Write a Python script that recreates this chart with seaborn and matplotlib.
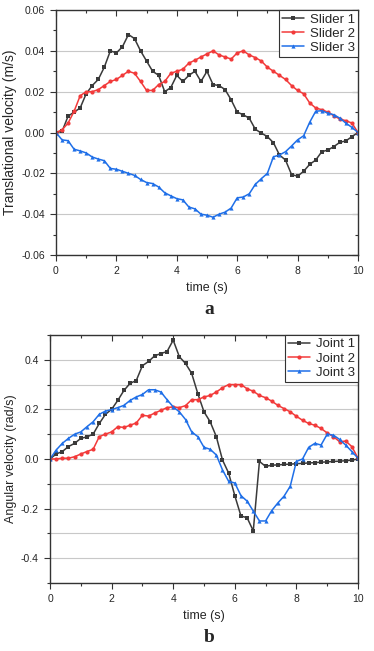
import numpy as np
import pandas as pd
import seaborn as sns
import matplotlib.pyplot as plt
from matplotlib.ticker import MultipleLocator, FixedLocator, FormatStrFormatter

# time grid shared by all series (one sample every 0.2 s)
time = np.round(np.arange(0, 10.01, 0.2), 1)

slider_1 = [0.0, 0.0005, 0.008, 0.010, 0.012, 0.019, 0.023, 0.026, 0.032, 0.040,
            0.039, 0.042, 0.048, 0.046, 0.040, 0.035, 0.030, 0.028, 0.020, 0.022,
            0.028, 0.025, 0.028, 0.030, 0.025, 0.030, 0.0235, 0.023, 0.021, 0.016,
            0.010, 0.0087, 0.007, 0.0016, -0.0003, -0.002, -0.005, -0.011, -0.0135, -0.0206,
            -0.0214, -0.019, -0.0156, -0.0135, -0.0094, -0.0086, -0.0069, -0.0048, -0.0041, -0.002,
            0.0]
slider_2 = [0.0, 0.0013, 0.0046, 0.0104, 0.018, 0.020, 0.020, 0.021, 0.023, 0.025,
            0.026, 0.028, 0.030, 0.029, 0.025, 0.0206, 0.0206, 0.0235, 0.025, 0.029,
            0.030, 0.031, 0.034, 0.0354, 0.037, 0.0385, 0.040, 0.038, 0.037, 0.036,
            0.039, 0.040, 0.038, 0.0367, 0.035, 0.032, 0.030, 0.028, 0.026, 0.023,
            0.0206, 0.019, 0.0145, 0.012, 0.0112, 0.010, 0.0082, 0.0066, 0.0058, 0.0046,
            0.0]
slider_3 = [0.0, -0.0036, -0.004, -0.0082, -0.009, -0.010, -0.012, -0.013, -0.0138, -0.0176,
            -0.018, -0.019, -0.020, -0.021, -0.023, -0.0245, -0.025, -0.0267, -0.0295, -0.031,
            -0.0324, -0.033, -0.0365, -0.0374, -0.040, -0.0405, -0.0415, -0.040, -0.039, -0.037,
            -0.032, -0.0316, -0.030, -0.0254, -0.0226, -0.020, -0.0119, -0.011, -0.0094, -0.0066,
            -0.0036, -0.0016, 0.005, 0.0104, 0.0107, 0.0095, 0.0087, 0.007, 0.0046, 0.0025,
            0.0]

joint_1 = [0.0, 0.02, 0.03, 0.05, 0.063, 0.083, 0.089, 0.10, 0.143, 0.18,
           0.20, 0.236, 0.276, 0.305, 0.316, 0.376, 0.393, 0.416, 0.425, 0.433,
           0.479, 0.412, 0.385, 0.345, 0.263, 0.19, 0.15, 0.09, -0.004, -0.057,
           -0.148, -0.23, -0.237, -0.29, -0.01, -0.03, -0.025, -0.024, -0.022, -0.021,
           -0.019, -0.018, -0.016, -0.015, -0.013, -0.012, -0.010, -0.009, -0.007, -0.005,
           0.0]
joint_2 = [0.0, 0.0, 0.003, 0.003, 0.009, 0.02, 0.03, 0.039, 0.09, 0.10,
           0.109, 0.13, 0.127, 0.136, 0.145, 0.176, 0.173, 0.185, 0.196, 0.207,
           0.21, 0.207, 0.215, 0.239, 0.239, 0.25, 0.256, 0.27, 0.287, 0.30,
           0.30, 0.30, 0.283, 0.273, 0.256, 0.247, 0.233, 0.216, 0.203, 0.19,
           0.172, 0.156, 0.143, 0.136, 0.123, 0.105, 0.09, 0.07, 0.072, 0.05,
           0.003]
joint_3 = [0.0, 0.036, 0.063, 0.083, 0.10, 0.109, 0.13, 0.15, 0.18, 0.193,
           0.199, 0.207, 0.216, 0.236, 0.25, 0.26, 0.279, 0.279, 0.27, 0.239,
           0.21, 0.19, 0.159, 0.109, 0.09, 0.047, 0.039, 0.016, -0.044, -0.09,
           -0.097, -0.148, -0.17, -0.21, -0.25, -0.25, -0.208, -0.177, -0.15, -0.11,
           -0.01, 0.0, 0.047, 0.063, 0.056, 0.10, 0.096, 0.079, 0.056, 0.03,
           0.003]

colors = ["#3a3a3a", "#f23a3a", "#1f6fe8"]
markers = ["s", "o", "^"]

sns.set_style("white")
plt.rcParams["font.family"] = ["Liberation Sans", "DejaVu Sans"]

fig = plt.figure(figsize=(3.74, 6.51), dpi=100)
ax1 = fig.add_axes([0.1497, 0.6083, 0.8075, 0.3763])
ax2 = fig.add_axes([0.1337, 0.1045, 0.8235, 0.3810])

TICK_C = "#333333"


def style_ticks(axis_obj, **kw):
    axis_obj.tick_params(which="both", color=TICK_C, width=0.8, **kw)
    axis_obj.tick_params(which="major", length=4)
    axis_obj.tick_params(which="minor", length=2.5)


def draw(ax, names, series, ylabel, ylabel_size):
    df = pd.DataFrame({"time": np.tile(time, 3),
                       "v": np.concatenate(series),
                       "series": np.repeat(names, len(time))})
    sns.lineplot(data=df, x="time", y="v", hue="series", style="series",
                 palette=colors, markers=markers, dashes=False, ax=ax,
                 linewidth=1.1, markersize=3, markeredgewidth=0)
    ax.set_xlim(0, 10)
    ax.xaxis.set_major_locator(MultipleLocator(2))
    ax.xaxis.set_minor_locator(MultipleLocator(1))
    ax.set_xlabel("time (s)", fontsize=9, labelpad=4)
    ax.set_ylabel(ylabel, fontsize=ylabel_size, labelpad=3)
    # Origin style: outside ticks on left/bottom, inside on top/right
    style_ticks(ax, direction="out", left=True, bottom=True, top=False, right=False,
                labelsize=7.5, pad=4)
    sec_x = ax.secondary_xaxis("top")
    sec_x.xaxis.set_major_locator(MultipleLocator(2))
    sec_x.xaxis.set_minor_locator(MultipleLocator(1))
    style_ticks(sec_x, direction="in", top=True, labeltop=False)
    sec_x.spines["top"].set_visible(False)
    for s in ax.spines.values():
        s.set_color(TICK_C)
        s.set_linewidth(1.0)
    ax.grid(False)
    leg = ax.legend(loc="upper right", fontsize=9.5, frameon=True, fancybox=False,
                    framealpha=1, edgecolor=TICK_C, borderaxespad=0,
                    handlelength=1.7, handletextpad=0.4, borderpad=0.25,
                    labelspacing=0.15)
    leg.get_frame().set_linewidth(0.8)
    return ax


draw(ax1, ["Slider 1", "Slider 2", "Slider 3"], [slider_1, slider_2, slider_3],
     "Translational velocity (m/s)", 10)
ax1.set_ylim(-0.06, 0.06)
ax1.yaxis.set_major_locator(MultipleLocator(0.02))
ax1.yaxis.set_minor_locator(MultipleLocator(0.01))
ax1.yaxis.set_major_formatter(FormatStrFormatter("%.2f"))
ax1.grid(True, which="major", axis="y", color="#c8c8c8", linewidth=0.8)
ax1.set_axisbelow(True)
sec_y1 = ax1.secondary_yaxis("right")
sec_y1.yaxis.set_major_locator(MultipleLocator(0.02))
sec_y1.yaxis.set_minor_locator(MultipleLocator(0.01))

draw(ax2, ["Joint 1", "Joint 2", "Joint 3"], [joint_1, joint_2, joint_3],
     "Angular velocity (rad/s)", 9)
ax2.set_ylim(-0.5, 0.5)
ax2.yaxis.set_major_locator(FixedLocator([-0.4, -0.2, 0.0, 0.2, 0.4]))
ax2.yaxis.set_minor_locator(MultipleLocator(0.1))
ax2.yaxis.set_major_formatter(FormatStrFormatter("%.1f"))
ax2.grid(True, which="both", axis="y", color="#c8c8c8", linewidth=0.8)
ax2.set_axisbelow(True)
sec_y2 = ax2.secondary_yaxis("right")
sec_y2.yaxis.set_major_locator(FixedLocator([-0.4, -0.2, 0.0, 0.2, 0.4]))
sec_y2.yaxis.set_minor_locator(MultipleLocator(0.1))

for sy in [sec_y1, sec_y2]:
    style_ticks(sy, direction="in", right=True, labelright=False)
    sy.spines["right"].set_visible(False)

fig.text(0.5586, 1 - 309 / 651, "a", ha="center", va="center",
         fontsize=14, fontweight="bold", family="Liberation Serif")
fig.text(0.5586, 1 - 637 / 651, "b", ha="center", va="center",
         fontsize=14, fontweight="bold", family="Liberation Serif")

fig.savefig("out.png", dpi=100)
